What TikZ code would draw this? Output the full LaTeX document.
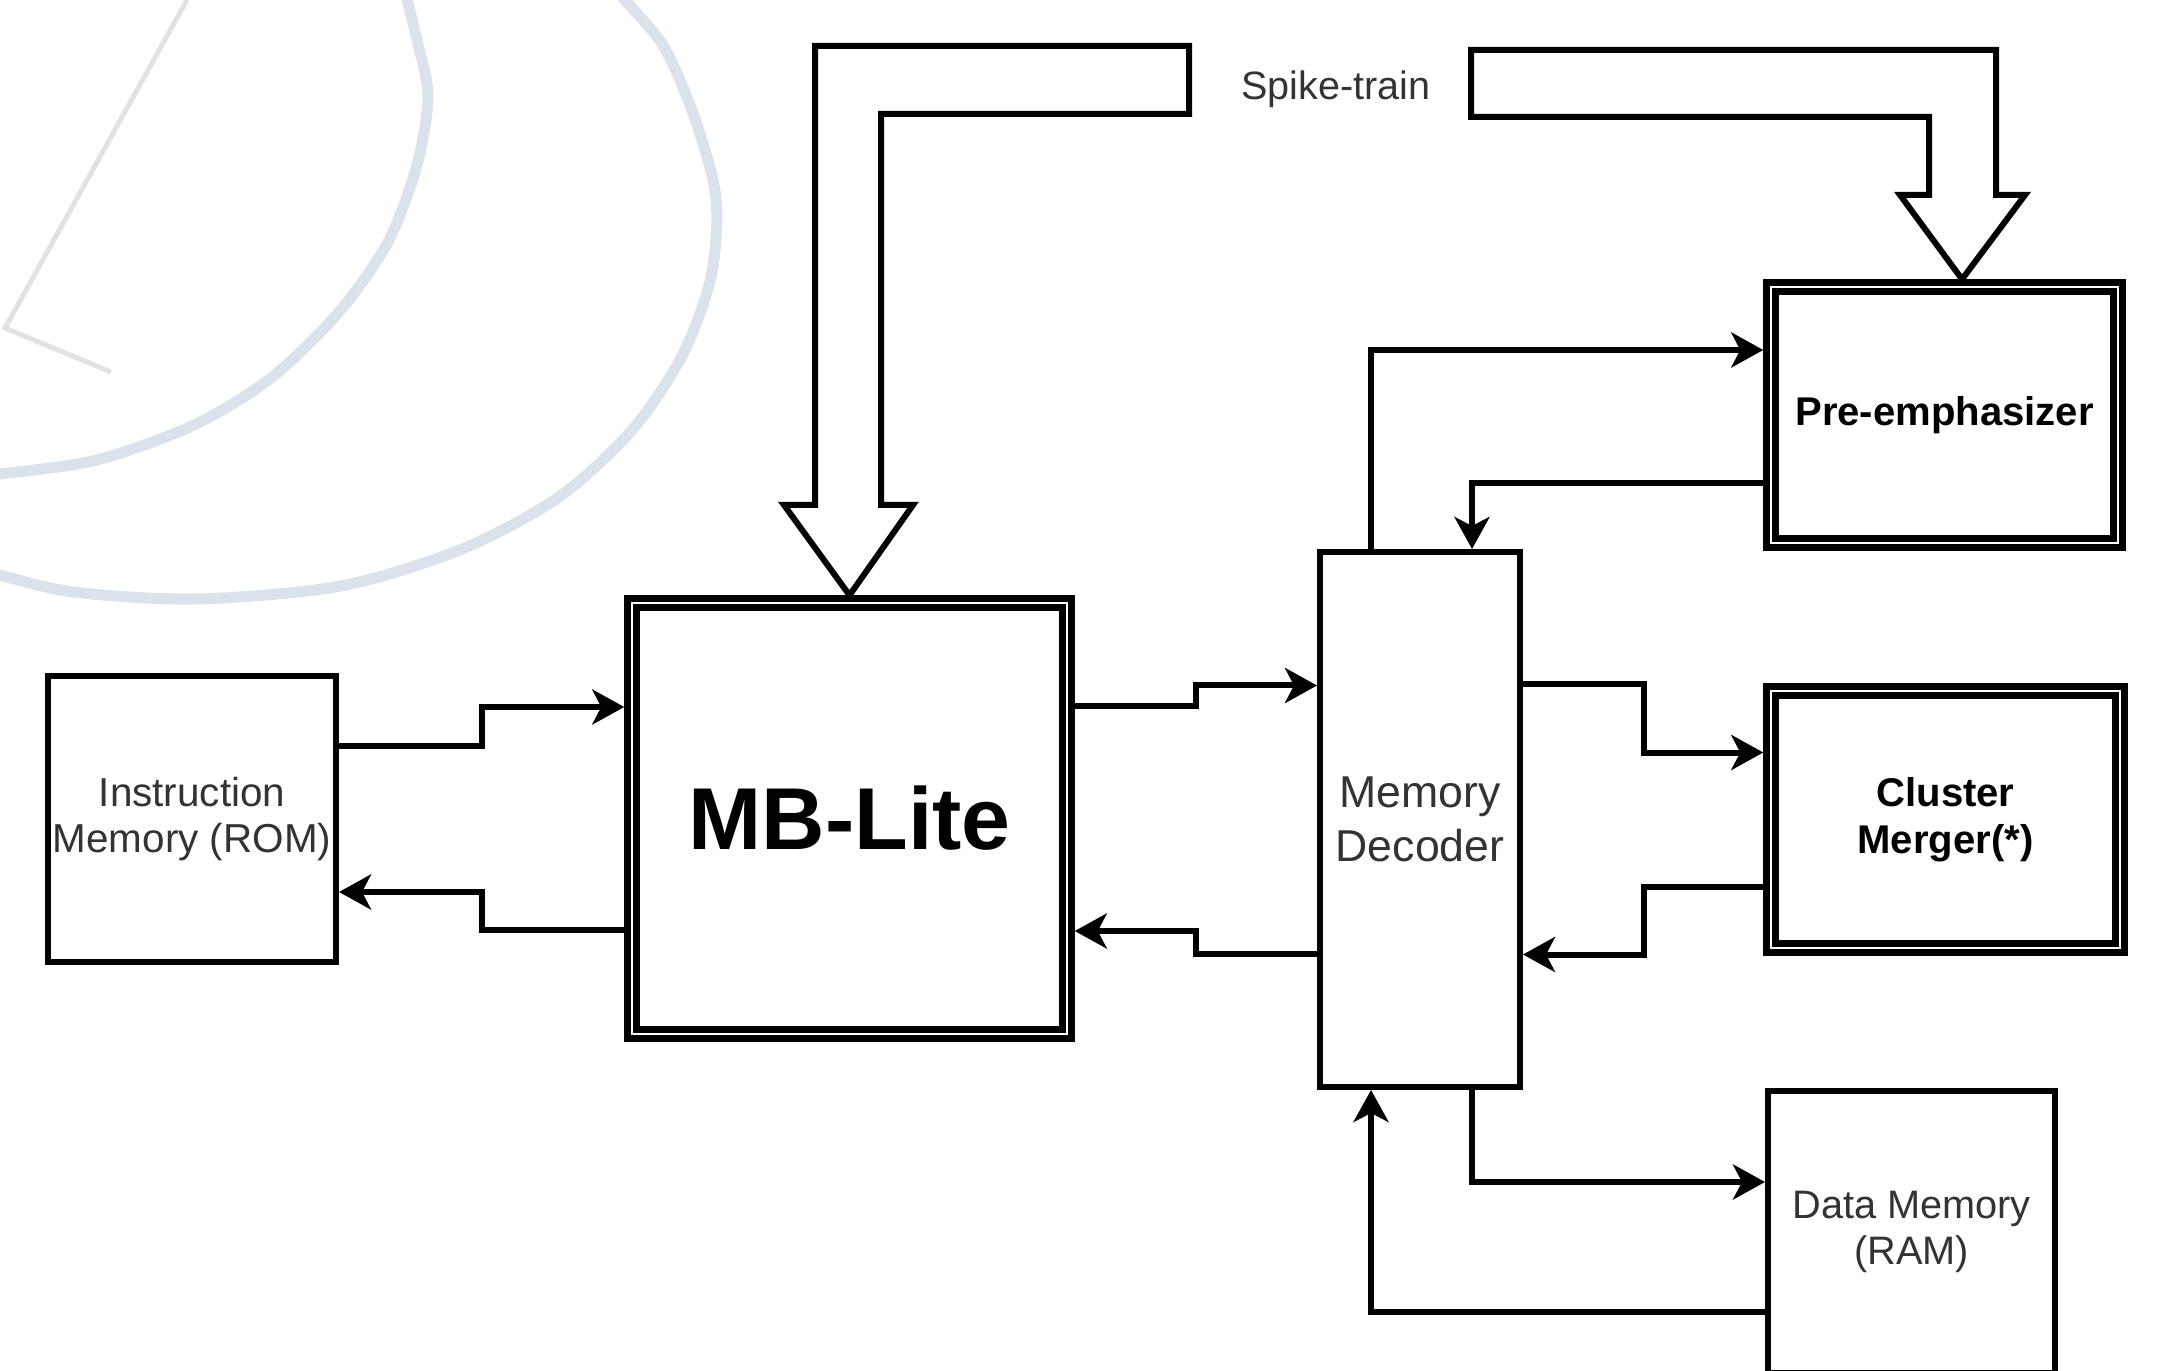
\documentclass[tikz,border=0pt]{standalone}
\usepackage{fontspec}
\setmainfont{Liberation Sans}
\usetikzlibrary{arrows.meta}
\definecolor{txtgray}{HTML}{333333}
\definecolor{markblue}{HTML}{DAE3EB}
\definecolor{markgray}{HTML}{E2E2E2}

\begin{document}
\begin{tikzpicture}[x=0.1mm,y=-0.1mm,
  block/.style={draw=black,line width=0.6mm,fill=white,align=center,text=txtgray,inner sep=0pt},
  dblock/.style={draw=black,line width=0.65mm,double=white,double distance=0.25mm,
    outer sep=0.775mm,fill=white,align=center,inner sep=0pt},
  link/.style={line width=0.6mm,-{Stealth[length=3.2mm,width=3.5mm,inset=0.9mm]}},
  hollow/.style={draw=black,line width=0.6mm,fill=white,line join=miter}]
  \useasboundingbox (0,0) rectangle (2158,1371);
  \clip (0,0) rectangle (2158,1371);

  % Faint watermark in the background
  \draw[markgray,line width=0.5mm] (187,0) -- (5,328) -- (111,372);
  \draw[markblue,line width=1.1mm] plot[smooth] coordinates {(402,-20) (417,40) (428,96) (417,165)
    (388,242) (339,312) (271,378) (194,425) (97,460) (0,474) (-30,476)};
  \draw[markblue,line width=1.1mm] plot[smooth] coordinates {(610,-20) (625,0) (664,47) (695,119)
    (716,198) (711,277) (682,356) (632,430) (559,497) (462,549) (341,586) (196,599) (73,592) (0,575) (-30,566)};

  % Blocks
  \node[block,minimum width=28.8mm,minimum height=28.6mm,font=\fontsize{11.5}{13.3}\selectfont]
    (rom) at (192,819) {Instruction\\Memory (ROM)};
  \node[dblock,minimum width=43.5mm,minimum height=43.1mm,font=\fontsize{25}{30}\bfseries\selectfont]
    (mb) at (849.5,818.5) {MB-Lite};
  \node[block,minimum width=20mm,minimum height=53.5mm,font=\fontsize{12.7}{15.3}\selectfont]
    (dec) at (1420,819.5) {Memory\\Decoder};
  \node[dblock,minimum width=34.7mm,minimum height=25.6mm,font=\fontsize{11.4}{13.3}\bfseries\selectfont]
    (pre) at (1944.5,415) {Pre-emphasizer};
  \node[dblock,minimum width=34.9mm,minimum height=25.7mm,font=\fontsize{11.4}{13.3}\bfseries\selectfont]
    (cm) at (1945.5,819.5) {Cluster\\Merger(*)};
  \node[block,minimum width=28.7mm,minimum height=28.2mm,font=\fontsize{11.3}{13.3}\selectfont]
    (ram) at (1911.5,1232) {Data Memory\\(RAM)};
  \node[text=txtgray,font=\fontsize{11.25}{13}\selectfont] (spike) at (1336,89) {Spike-train};

  % Spike-train inputs
  \draw[hollow] (1189,46) -- (815,46) -- (815,505) -- (784,505) -- (mb.north)
    -- (913,505) -- (881,505) -- (881,114) -- (1189,114) -- cycle;
  \draw[hollow] (1471,50) -- (1996,50) -- (1996,195) -- (2025,195) -- ([xshift=1.75mm]pre.north)
    -- (1900,195) -- (1929,195) -- (1929,117) -- (1471,117) -- cycle;

  % Bus connections
  \draw[link] ([yshift=7.3mm]rom.east) -- ++(14.3mm,0) |- ([yshift=11.15mm]mb.west);
  \draw[link] ([yshift=-11.15mm]mb.west) -- ++(-14.2mm,0) |- ([yshift=-7.3mm]rom.east);
  \draw[link] ([yshift=11.25mm]mb.east) -- ++(12.1mm,0) |- ([yshift=13.4mm]dec.west);
  \draw[link] ([yshift=-13.4mm]dec.west) -- ++(-12.1mm,0) |- ([yshift=-11.25mm]mb.east);
  \draw[link] ([yshift=13.5mm]dec.east) -- ++(12.1mm,0) |- ([yshift=6.7mm]cm.west);
  \draw[link] ([yshift=-6.7mm]cm.west) -- ++(-11.9mm,0) |- ([yshift=-13.5mm]dec.east);
  \draw[link] ([xshift=5.2mm]dec.south) |- ([yshift=5mm]ram.west);
  \draw[link] ([yshift=-8mm]ram.west) -| ([xshift=-4.9mm]dec.south);
  \draw[link] ([xshift=-4.9mm]dec.north) |- ([yshift=6.5mm]pre.west);
  \draw[link] ([yshift=-6.8mm]pre.west) -| ([xshift=5.2mm]dec.north);
\end{tikzpicture}
\end{document}
